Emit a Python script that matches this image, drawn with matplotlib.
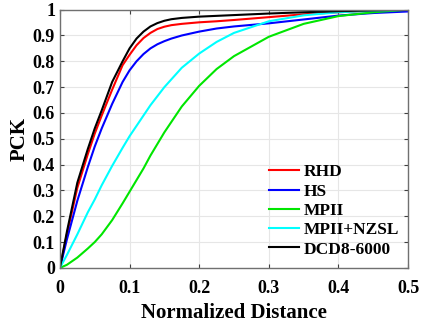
import numpy as np
import matplotlib
matplotlib.use('Agg')
import matplotlib.pyplot as plt

# values
dist = [0, 0.01, 0.025, 0.04, 0.05, 0.06, 0.075, 0.09, 0.1, 0.11, 0.12, 0.13,
        0.14, 0.15, 0.16, 0.175, 0.2, 0.225, 0.25, 0.3, 0.35, 0.4, 0.45, 0.5]
rhd = [0, 0.13, 0.31, 0.44, 0.52, 0.59, 0.69, 0.785, 0.825, 0.862, 0.89, 0.91,
       0.925, 0.934, 0.94, 0.945, 0.951, 0.955, 0.96, 0.971, 0.982, 0.99, 0.996, 1.0]
hs = [0, 0.11, 0.26, 0.39, 0.47, 0.54, 0.635, 0.72, 0.765, 0.80, 0.828, 0.85,
      0.866, 0.878, 0.888, 0.90, 0.915, 0.927, 0.935, 0.947, 0.962, 0.977, 0.987, 0.993]
mpii = [0, 0.012, 0.04, 0.075, 0.10, 0.13, 0.185, 0.25, 0.295, 0.34, 0.385, 0.435,
        0.48, 0.525, 0.565, 0.625, 0.705, 0.77, 0.82, 0.895, 0.945, 0.975, 0.99, 1.0]
mpii_nzsl = [0, 0.05, 0.13, 0.215, 0.265, 0.32, 0.395, 0.465, 0.51, 0.55, 0.59, 0.63,
             0.665, 0.70, 0.73, 0.775, 0.83, 0.875, 0.91, 0.955, 0.978, 0.99, 0.996, 1.0]
dcd = [0, 0.14, 0.33, 0.46, 0.54, 0.61, 0.72, 0.80, 0.85, 0.888, 0.915, 0.935,
       0.948, 0.957, 0.963, 0.968, 0.973, 0.976, 0.979, 0.985, 0.99, 0.994, 0.997, 1.0]

names = ['RHD', 'HS', 'MPII', 'MPII+NZSL', 'DCD8-6000']
series = [rhd, hs, mpii, mpii_nzsl, dcd]
colors = ['#ff0000', '#0000ff', '#00e600', '#00ffff', '#000000']

plt.rcParams['font.family'] = 'Liberation Serif'
plt.rcParams['font.weight'] = 'bold'

fig = plt.figure(figsize=(4.22, 3.22), dpi=100)
ax = fig.add_axes([0.142, 0.168, 0.825, 0.802])

for ys, c, n in zip(series, colors, names):
    ax.plot(dist, ys, color=c, lw=1.5, label=n)

ax.set_xlim(0, 0.5)
ax.set_ylim(0, 1)
ax.set_xticks(np.arange(0, 0.51, 0.1))
ax.set_yticks(np.arange(0, 1.01, 0.1))
ax.set_xticklabels(['0', '0.1', '0.2', '0.3', '0.4', '0.5'])
ax.set_yticklabels(['0'] + ['%.1f' % v for v in np.arange(0.1, 0.95, 0.1)] + ['1'])
ax.tick_params(direction='in', top=True, right=True, labelsize=13, length=3,
               color='#404040')
ax.tick_params(axis='x', pad=8.5)
ax.tick_params(axis='y', pad=3.5)
ax.grid(True, color='#e6e6e6', lw=0.8)
ax.set_axisbelow(True)
for s in ax.spines.values():
    s.set_color('#707070')
    s.set_linewidth(1.0)

ax.set_xlabel('Normalized Distance', fontsize=15, fontweight='bold', labelpad=4.5)
ax.set_ylabel('PCK', fontsize=15, fontweight='bold', labelpad=2)

ax.legend(loc='lower left', bbox_to_anchor=(0.6, 0.04), frameon=False,
          fontsize=12.5, handlelength=1.75, handletextpad=0.25, labelspacing=0.18,
          borderpad=0, borderaxespad=0)

fig.savefig('out.png', dpi=100)
